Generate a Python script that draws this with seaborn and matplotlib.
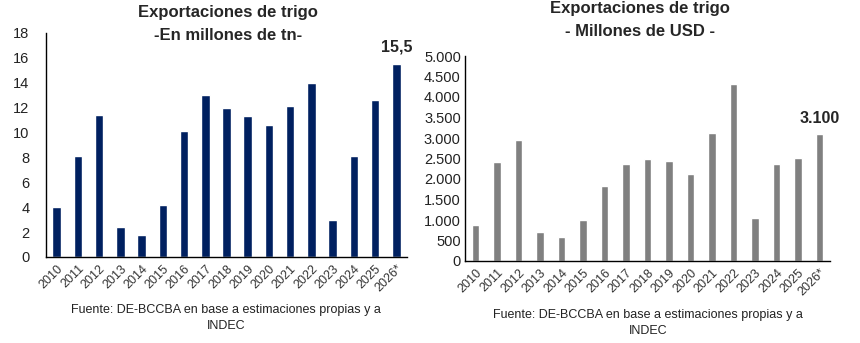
import matplotlib
matplotlib.use("Agg")
import matplotlib.pyplot as plt
import seaborn as sns
import pandas as pd

years = ["2010", "2011", "2012", "2013", "2014", "2015", "2016", "2017", "2018",
         "2019", "2020", "2021", "2022", "2023", "2024", "2025", "2026*"]
tn_values = [4.0, 8.1, 11.4, 2.4, 1.8, 4.2, 10.1, 13.0, 12.0, 11.3, 10.6, 12.1,
             14.0, 3.0, 8.1, 12.6, 15.5]
usd_values = [880, 2420, 2950, 710, 590, 1000, 1830, 2370, 2490, 2440, 2130, 3120,
              4320, 1050, 2370, 2510, 3100]
tn_ticks = [0, 2, 4, 6, 8, 10, 12, 14, 16, 18]
usd_ticks = [0, 500, 1000, 1500, 2000, 2500, 3000, 3500, 4000, 4500, 5000]

sns.set_theme(style="white")
plt.rcParams["font.family"] = ["Liberation Sans", "DejaVu Sans"]

fig = plt.figure(figsize=(8.6, 3.43), dpi=100)
W, H = 860, 343

def ax_rect(x0, y0, x1, y1):
    return [x0 / W, 1 - y1 / H, (x1 - x0) / W, (y1 - y0) / H]

ax1 = fig.add_axes(ax_rect(46, 33, 407, 257))
ax2 = fig.add_axes(ax_rect(465, 56, 830, 261))

df1 = pd.DataFrame({"year": years, "val": tn_values})
df2 = pd.DataFrame({"year": years, "val": usd_values})

sns.barplot(data=df1, x="year", y="val", ax=ax1, color="#002060", width=0.4,
            saturation=1)
sns.barplot(data=df2, x="year", y="val", ax=ax2, color="#808080", width=0.35,
            saturation=1)

def fmt_usd(v):
    return f"{v:,.0f}".replace(",", ".")

for ax, ticks, top, labels, ypad in [
    (ax1, tn_ticks, 18, [str(t) for t in tn_ticks], 12),
    (ax2, usd_ticks, 5000, [fmt_usd(t) for t in usd_ticks], 3),
]:
    ax.set_xlim(-0.5, len(years) - 0.5)
    ax.set_ylim(0, top)
    ax.set_yticks(ticks)
    ax.set_yticklabels(labels, fontsize=10.5, color="#222222")
    ax.set_xticks(range(len(years)))
    ax.set_xticklabels(years, rotation=45, ha="right", rotation_mode="anchor",
                       fontsize=9, color="#333333")
    ax.tick_params(axis="x", length=0, pad=4)
    ax.tick_params(axis="y", length=0, pad=ypad)
    ax.set_xlabel("")
    ax.set_ylabel("")
    for s in ["top", "right"]:
        ax.spines[s].set_visible(False)
    for s in ["left", "bottom"]:
        ax.spines[s].set_color("#000000")
        ax.spines[s].set_linewidth(1.0)

ax1.text(len(years) - 1, tn_values[-1] + 0.75, f"{tn_values[-1]:.1f}".replace(".", ","),
         ha="center", va="bottom", fontsize=11.5, fontweight="bold")
ax2.text(len(years) - 1, usd_values[-1] + 200, fmt_usd(usd_values[-1]),
         ha="center", va="bottom", fontsize=11.5, fontweight="bold")

fig.text(228 / W, 1 - 13 / H, "Exportaciones de trigo", ha="center", va="center",
         fontsize=12, fontweight="bold")
fig.text(228 / W, 1 - 35 / H, "-En millones de tn-", ha="center", va="center",
         fontsize=12, fontweight="bold")
fig.text(640 / W, 1 - 9 / H, "Exportaciones de trigo", ha="center", va="center",
         fontsize=12, fontweight="bold")
fig.text(640 / W, 1 - 31 / H, "- Millones de USD -", ha="center", va="center",
         fontsize=12, fontweight="bold")

fig.text(226 / W, 1 - 310 / H, "Fuente: DE-BCCBA en base a estimaciones propias y a",
         ha="center", va="center", fontsize=9, color="#222222")
fig.text(226 / W, 1 - 326 / H, "INDEC", ha="center", va="center", fontsize=9,
         color="#222222")
fig.text(648 / W, 1 - 315 / H, "Fuente: DE-BCCBA en base a estimaciones propias y a",
         ha="center", va="center", fontsize=9, color="#222222")
fig.text(648 / W, 1 - 331 / H, "INDEC", ha="center", va="center", fontsize=9,
         color="#222222")

fig.savefig("out.png", dpi=100, facecolor="white")
